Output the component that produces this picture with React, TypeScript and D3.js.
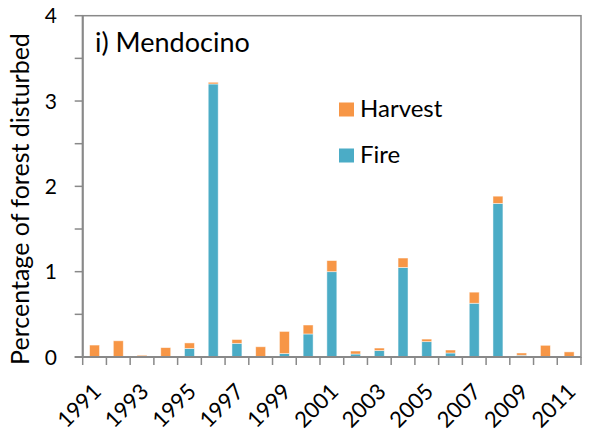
import React from "react";
import * as d3 from "d3";

const years = [
  "1991", "1992", "1993", "1994", "1995", "1996", "1997", "1998", "1999", "2000",
  "2001", "2002", "2003", "2004", "2005", "2006", "2007", "2008", "2009", "2010", "2011",
];
const fire = [
  0, 0, 0, 0, 0.1, 3.2, 0.16, 0, 0.04, 0.27,
  1.0, 0.035, 0.075, 1.05, 0.18, 0.047, 0.63, 1.8, 0.02, 0, 0,
];
const harvest = [
  0.14, 0.19, 0.02, 0.11, 0.065, 0.02, 0.045, 0.12, 0.26, 0.105,
  0.13, 0.035, 0.03, 0.11, 0.03, 0.035, 0.13, 0.085, 0.027, 0.137, 0.06,
];
const yTicks = [0, 1, 2, 3, 4];
const yMinor = [0, 0.5, 1, 1.5, 2, 2.5, 3, 3.5, 4];
const labelYears = ["1991", "1993", "1995", "1997", "1999", "2001", "2003", "2005", "2007", "2009", "2011"];

const FIRE = "#4BACC6";
const HARVEST = "#F79646";
const AXIS = "#898989";
const FONT = "Lato, 'Open Sans', sans-serif";

export default function App() {
  const width = 590;
  const height = 436;
  const left = 82.7;
  const right = 581;
  const top = 15.7;
  const bottom = 357;

  const x = d3.scaleBand().domain(years).range([left, right]).paddingInner(0.58).paddingOuter(0.29);
  const y = d3.scaleLinear().domain([0, 4]).range([bottom, top]);
  const step = x.step();

  const rows = years.map((yr, i) => ({ year: yr, fire: fire[i], harvest: harvest[i] }));
  const stack = d3.stack<any>().keys(["fire", "harvest"])(rows);
  const colors: Record<string, string> = { fire: FIRE, harvest: HARVEST };

  return (
    <svg
      width={width}
      height={height}
      style={{ position: "absolute", left: 0, top: 0, background: "#fff" }}
      fontFamily={FONT}
    >
      {/* plot frame */}
      <rect x={left} y={top} width={right - left} height={bottom - top} fill="none" stroke={AXIS} strokeWidth={1.5} />

      {/* bars */}
      {stack.map((s) => (
        <g key={s.key} fill={colors[s.key]}>
          {s.map((d, i) =>
            d[1] - d[0] > 0 ? (
              <rect
                key={i}
                x={x(years[i])}
                y={y(d[1])}
                width={x.bandwidth()}
                height={y(d[0]) - y(d[1])}
                stroke="#fff"
                strokeOpacity={0.6}
                strokeWidth={0.8}
              />
            ) : null
          )}
        </g>
      ))}

      {/* y axis */}
      <line x1={left} x2={left} y1={top} y2={bottom} stroke={AXIS} strokeWidth={2} />
      {yMinor.map((t) => (
        <line key={t} x1={left - 8} x2={left} y1={y(t)} y2={y(t)} stroke={AXIS} strokeWidth={1.5} />
      ))}
      {yTicks.map((t) => (
        <text key={t} x={57} y={y(t)} dy="0.36em" textAnchor="end" fontSize={21} fill="#000">
          {t}
        </text>
      ))}
      <text
        transform={`translate(29,199) rotate(-90)`}
        textAnchor="middle"
        fontSize={25}
        fill="#000"
      >
        Percentage of forest disturbed
      </text>

      {/* x axis */}
      <line x1={left - 8} x2={right} y1={bottom} y2={bottom} stroke={AXIS} strokeWidth={2} />
      {years.concat(["end"]).map((yr, i) => {
        const px = left + i * step;
        return <line key={yr} x1={px} x2={px} y1={bottom} y2={bottom + 8} stroke={AXIS} strokeWidth={1.5} />;
      })}
      {labelYears.map((yr) => {
        const cx = (x(yr) as number) + x.bandwidth() / 2;
        return (
          <text
            key={yr}
            transform={`translate(${cx + 8},${bottom + 36}) rotate(-45)`}
            textAnchor="end"
            fontSize={22}
            fill="#000"
          >
            {yr}
          </text>
        );
      })}

      {/* title */}
      <text x={95} y={51.7} fontSize={27} fill="#000">
        i) Mendocino
      </text>

      {/* legend */}
      <rect x={339} y={102.5} width={15} height={14} fill={HARVEST} />
      <text x={360} y={116.7} fontSize={24} fill="#000">Harvest</text>
      <rect x={339} y={148.5} width={15} height={14} fill={FIRE} />
      <text x={360} y={163} fontSize={24} fill="#000">Fire</text>
    </svg>
  );
}
